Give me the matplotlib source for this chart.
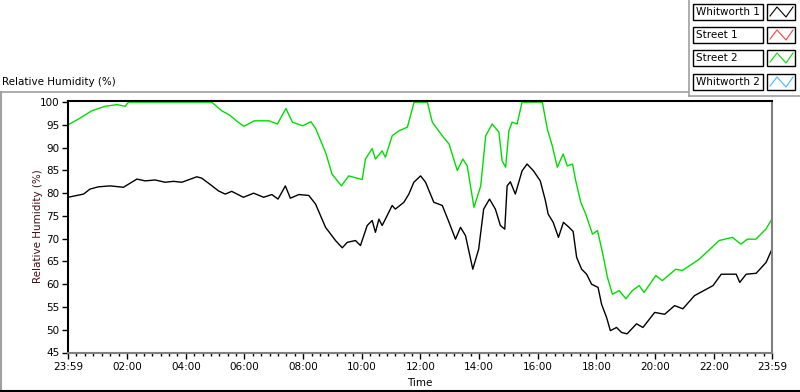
import matplotlib
matplotlib.use('Agg')
import matplotlib.pyplot as plt
from matplotlib.patches import Rectangle
from matplotlib.lines import Line2D

plt.rcParams['font.family'] = ['DejaVu Sans']

# Time in hours since 23:59 (start of axis)
street2_time = [0.0, 0.36, 0.81, 1.27, 1.67, 1.95, 2.06, 3.0, 4.0, 4.9, 5.24, 5.5, 5.8,
                6.0, 6.35, 6.85, 7.14, 7.43, 7.65, 8.0, 8.28, 8.45, 8.8, 9.0, 9.32, 9.57,
                10.03, 10.14, 10.37, 10.48, 10.71, 10.82, 11.05, 11.28, 11.57, 11.8, 12.25,
                12.42, 12.76, 12.99, 13.27, 13.46, 13.61, 13.84, 14.07, 14.24, 14.46, 14.69,
                14.8, 14.92, 15.03, 15.14, 15.31, 15.48, 16.17, 16.34, 16.51, 16.68, 16.88,
                17.02, 17.2, 17.31, 17.48, 17.65, 17.88, 18.05, 18.22, 18.39, 18.56, 18.79,
                19.02, 19.24, 19.47, 19.64, 20.04, 20.26, 20.72, 20.94, 21.52, 22.2, 22.65,
                22.94, 23.16, 23.45, 23.79, 24.0]
street2_rh = [95.0, 96.3, 98.1, 99.1, 99.45, 99.1, 100, 100, 100, 100, 98.1, 97.2, 95.6,
              94.7, 95.9, 95.9, 95.2, 98.6, 95.6, 94.8, 95.7, 94.1, 88.6, 84.2, 81.6, 83.8,
              83.0, 87.5, 89.8, 87.5, 89.3, 87.9, 92.6, 93.7, 94.5, 100, 100,
              95.6, 92.6, 90.8, 85.0, 87.5, 86.0, 76.9, 81.6, 92.6, 95.2, 93.4,
              87.1, 85.7, 93.7, 95.6, 95.2, 100, 100, 94.1, 90.4, 85.7, 88.6,
              86.0, 86.4, 82.7, 78.0, 75.4, 71.0, 71.8, 67.0, 61.5, 57.8, 58.6,
              56.8, 58.6, 59.7, 58.2, 61.9, 60.8, 63.3, 63.0, 65.5, 69.6, 70.3,
              68.8, 69.9, 69.9, 72.1, 74.3]

whitworth1_time = [0.0, 0.53, 0.75, 1.04, 1.44, 1.89, 2.12, 2.35, 2.63, 2.97, 3.31, 3.6,
                   3.88, 4.39, 4.56, 4.85, 5.13, 5.36, 5.58, 5.98, 6.33, 6.67, 6.95, 7.16,
                   7.41, 7.58, 7.87, 8.21, 8.44, 8.78, 9.12, 9.35, 9.52, 9.8, 9.97, 10.2,
                   10.37, 10.48, 10.6, 10.71, 10.82, 11.05, 11.16, 11.45, 11.62, 11.79, 12.02,
                   12.19, 12.47, 12.76, 12.99, 13.21, 13.38, 13.55, 13.8, 14.0, 14.17, 14.37,
                   14.57, 14.74, 14.89, 14.97, 15.08, 15.25, 15.48, 15.65, 15.87, 16.1, 16.27,
                   16.37, 16.54, 16.72, 16.89, 17.08, 17.22, 17.34, 17.51, 17.68, 17.85, 18.07,
                   18.19, 18.36, 18.49, 18.7, 18.87, 19.06, 19.38, 19.6, 20.0, 20.34, 20.68,
                   20.96, 21.36, 21.99, 22.27, 22.78, 22.9, 23.12, 23.46, 23.8, 24.0]
whitworth1_rh = [79.1, 79.8, 80.9, 81.4, 81.6, 81.3, 82.2, 83.1, 82.7, 82.9, 82.4, 82.6,
                 82.4, 83.6, 83.3, 81.9, 80.5, 79.8, 80.4, 79.1, 80.0, 79.1, 79.7, 78.7,
                 81.6, 78.9, 79.7, 79.5, 77.6, 72.5, 69.6, 68.0, 69.2, 69.6, 68.5, 72.9,
                 74.0, 71.4, 74.3, 72.9, 74.3, 77.3, 76.5, 78.0, 79.8, 82.4, 83.8,
                 82.4, 78.0, 77.3, 73.6, 69.9, 72.5, 70.7, 63.3, 67.7, 76.5, 78.7,
                 76.5, 72.9, 72.1, 81.6, 82.5, 79.8, 84.9, 86.4, 84.9, 82.7, 78.5,
                 75.4, 73.6, 70.3, 73.6, 72.5, 71.6, 65.9, 63.3, 62.2, 60.0, 59.3,
                 55.6, 52.7, 49.8, 50.5, 49.4, 49.1, 51.3, 50.5, 53.8, 53.4, 55.3,
                 54.6, 57.5, 59.7, 62.2, 62.2, 60.4, 62.2, 62.4, 64.8, 67.7]

series_names = ['Whitworth 1', 'Street 1', 'Street 2', 'Whitworth 2']
series_colors = ['#000000', '#ff4040', '#00dd00', '#40b8ff']

tick_labels = ['23:59', '02:00', '04:00', '06:00', '08:00', '10:00', '12:00',
               '14:00', '16:00', '18:00', '20:00', '22:00', '23:59']
y_ticks = [45, 50, 55, 60, 65, 70, 75, 80, 85, 90, 95, 100]

W, H = 800, 392
fig = plt.figure(figsize=(8, 3.92), dpi=100)
ax = fig.add_axes([68 / W, 1 - 352.5 / H, 704 / W, 251.5 / H])

ax.plot(street2_time, street2_rh, color=series_colors[2], lw=1)
ax.plot(whitworth1_time, whitworth1_rh, color=series_colors[0], lw=1)

major = [0] + [h + 1 / 60 for h in range(2, 24, 2)] + [24]
minor = []
for a, b in zip(major[:-1], major[1:]):
    minor += [a + (b - a) * k / 7 for k in range(1, 7)]
ax.set_xticks(major)
ax.set_xticklabels(tick_labels)
ax.set_xticks(minor, minor=True)
ax.set_yticks(y_ticks)
ax.set_xlim(0, 24)
ax.set_ylim(45, 100.25)
ax.tick_params(axis='both', which='major', length=4, width=1, labelsize=7.5, pad=2)
ax.tick_params(axis='x', which='major', pad=3)
ax.tick_params(axis='x', which='minor', length=2.5, width=1)
for s in ['top', 'left']:
    ax.spines[s].set_color('black')
    ax.spines[s].set_linewidth(1.5)
for s in ['bottom', 'right']:
    ax.spines[s].set_color('#808080')
    ax.spines[s].set_linewidth(1.5)
ax.set_xlabel('Time', fontsize=7.5, labelpad=4)
fig.text(38 / W, 1 - 226 / H, 'Relative Humidity (%)', fontsize=7.5, color='#401010',
         rotation=90, ha='center', va='center')

# frame lines of the graph panel
def fline(x0, y0, x1, y1, color, lw=1.2):
    fig.add_artist(Line2D([x0 / W, x1 / W], [1 - y0 / H, 1 - y1 / H],
                          color=color, lw=lw, transform=fig.transFigure))

fline(0, 92, 689, 92, '#a0a0a0')
fline(689, 0, 689, 96, '#a0a0a0')
fline(689, 96, 800, 96, '#a0a0a0')
fline(1, 92, 1, 392, '#a0a0a0', 1.5)
fline(0, 391, 800, 391, 'black', 1.5)

fig.text(2 / W, 1 - 82 / H, 'Relative Humidity (%)', fontsize=7.5, va='center', ha='left')

# legend boxes
row_tops = [4, 27, 50, 74]
for name, color, top in zip(series_names, series_colors, row_tops):
    fig.add_artist(Rectangle((693 / W, 1 - (top + 16) / H), 70 / W, 16 / H,
                             fill=False, ec='black', lw=1, transform=fig.transFigure))
    fig.add_artist(Rectangle((767 / W, 1 - (top + 16) / H), 28 / W, 16 / H,
                             fill=False, ec='black', lw=1, transform=fig.transFigure))
    fig.text(696 / W, 1 - (top + 8) / H, name, fontsize=7.5, va='center', ha='left')
    xs = [770, 777, 786, 793]
    ys = [top + 12, top + 3, top + 13, top + 3]
    fig.add_artist(Line2D([x / W for x in xs], [1 - y / H for y in ys], color=color,
                          lw=0.8, transform=fig.transFigure))

fig.savefig('out.png', dpi=100)
